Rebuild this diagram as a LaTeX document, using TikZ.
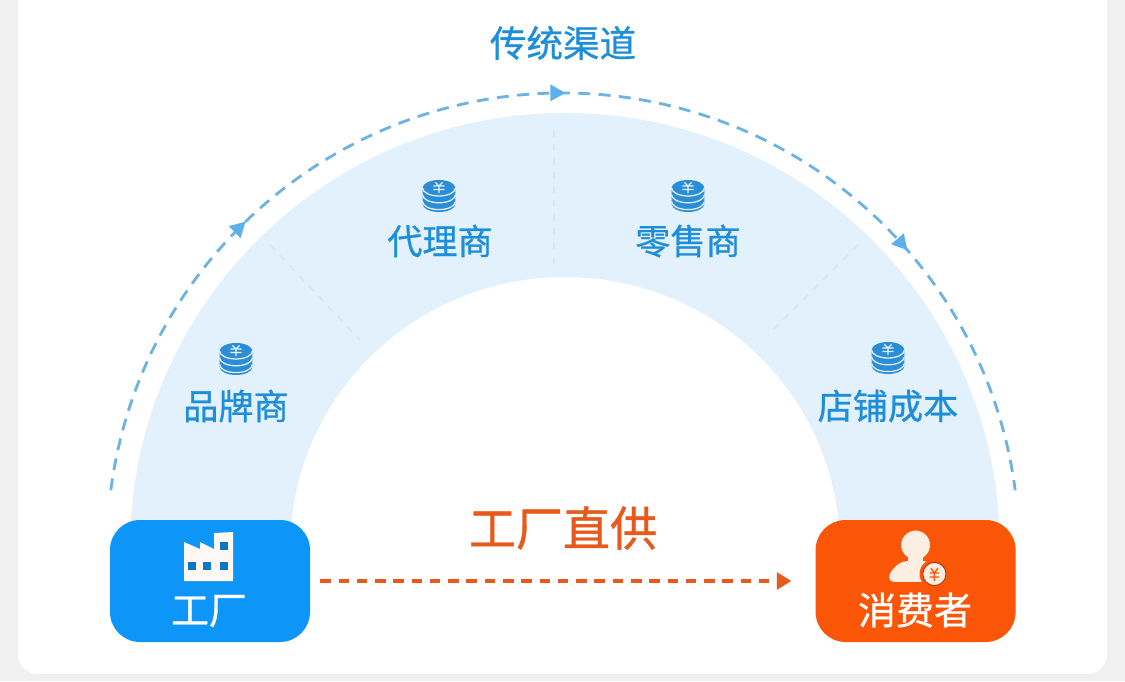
\documentclass[tikz,border=0pt]{standalone}
\usepackage{fontspec}
\newfontfamily\cjk[FakeBold=0.8]{Noto Sans CJK SC}
\usepackage{xcolor}
\usetikzlibrary{arrows.meta,decorations.markings,calc}
\definecolor{pagegray}{HTML}{F0F0F0}
\definecolor{archblue}{HTML}{E3F1FD}
\definecolor{splitblue}{HTML}{D6E7F5}
\definecolor{flowblue}{HTML}{6DB3E2}
\definecolor{tipblue}{HTML}{5CB1EC}
\definecolor{labelblue}{HTML}{1F8ED9}
\definecolor{coinblue}{HTML}{2B8DD6}
\definecolor{factoryblue}{HTML}{0D96F8}
\definecolor{buyerorange}{HTML}{FB5607}
\definecolor{directorange}{HTML}{E8591C}
\definecolor{cream}{HTML}{FDEEE4}

\begin{document}
\begin{tikzpicture}[
  every node/.style={inner sep=0pt},
  stagelabel/.style={font=\cjk\fontsize{25}{30}\selectfont, text=labelblue},
  boxlabel/.style={font=\cjk\fontsize{27}{32}\selectfont, text=white},
  endbox/.style={rounded corners=0.75cm, minimum width=5cm, minimum height=3.05cm},
  splitline/.style={splitblue, line width=1.2pt, dash pattern=on 5pt off 5pt},
  flowline/.style={flowblue, line width=2pt, dash pattern=on 8.5pt off 6pt},
  flowtip/.style={tipblue},
  coins/.pic={
    \fill[coinblue] (-0.41,0.2) arc[start angle=180, end angle=0, x radius=0.41, y radius=0.2]
      -- (0.41,-0.2) arc[start angle=0, end angle=-180, x radius=0.41, y radius=0.2] -- cycle;
    \foreach \yy in {0.2,0.03,-0.14} {
      \draw[archblue, line width=0.9pt] (-0.41,\yy) arc[start angle=180, end angle=360, x radius=0.41, y radius=0.2];
    }
    \draw[archblue, line width=0.9pt] (-0.14,0.25) -- (0.14,0.25) (-0.14,0.16) -- (0.14,0.16)
      (0,0.25) -- (0,0.07) (-0.09,0.34) -- (0,0.25) -- (0.09,0.34);
  },
  factoryicon/.pic={
    \fill[cream!40!white] (-0.65,0.975) -- (-0.25,0.8) -- (-0.25,0.975) -- (0.1,0.8) -- (0.1,1.2)
      -- (0.575,1.225) -- (0.575,0) -- (-0.65,0) -- cycle;
    \foreach \wx/\wy in {0.35/0.875, -0.45/0.375, -0.075/0.375, 0.35/0.375} {
      \fill[factoryblue!80!black] (\wx-0.09,\wy-0.09) rectangle (\wx+0.09,\wy+0.09);
    }
  },
  buyericon/.pic={
    \fill[cream] (0,0.9) ellipse (0.36 and 0.36);
    \fill[cream] (-0.18,0.75) rectangle (0.18,0.45);
    \fill[cream, rounded corners=3pt] (-0.66,-0.02) .. controls (-0.66,0.25) and (-0.45,0.42) .. (-0.28,0.5)
      -- (0.28,0.5) .. controls (0.45,0.42) and (0.6,0.35) .. (0.7,0.2) -- (0.5,-0.02) -- cycle;
    \fill[buyerorange] (0.47,0.175) circle (0.37);
    \fill[cream, draw=buyerorange!70!black, line width=0.7pt] (0.47,0.175) circle (0.29);
    \draw[buyerorange, line width=1pt] (0.35,0.2) -- (0.59,0.2) (0.35,0.1) -- (0.59,0.1)
      (0.47,0.2) -- (0.47,0) (0.38,0.32) -- (0.47,0.2) -- (0.56,0.32);
  }
]
\clip (0,0) rectangle (28.125,17.025);
\fill[pagegray] (0,0) rectangle (28.125,17.025);
\fill[white, rounded corners=0.5cm] (0.45,0.175) rectangle (27.675,18);

% arch
\coordinate (archc) at (14.125,3.325);
\fill[archblue] ($(archc)+(-10.875,0)$) arc[start angle=180, end angle=0, radius=10.875]
  -- ($(archc)+(6.87,0)$) arc[start angle=0, end angle=180, x radius=6.87, y radius=6.775] -- cycle;
\draw[splitline] (13.85,13.775) -- (13.85,10.4);
\draw[splitline] (6.75,10.9) -- (9,8.525);
\draw[splitline] (21.45,10.9) -- (19.2,8.65);

% traditional channel
\coordinate (flowc) at (14.075,3.3);
\coordinate (flowstart) at ($(flowc)+(172.6:11.4)$);
\draw[flowline, postaction={decorate, decoration={markings,
    mark=at position 0.233 with {\arrow[flowtip]{Triangle[length=0.38cm,width=0.4cm]}},
    mark=at position 0.502 with {\arrow[flowtip]{Triangle[length=0.38cm,width=0.4cm]}},
    mark=at position 0.797 with {\arrow[flowtip]{Triangle[length=0.38cm,width=0.4cm]}}}}]
  (flowstart) arc[start angle=172.6, end angle=7.4, radius=11.4];

\node[stagelabel, font=\cjk\fontsize{26}{30}\selectfont] (channel) at (14.075,15.95) {传统渠道};
\node[stagelabel] (brand)  at (5.9,6.875)  {品牌商};
\node[stagelabel] (agent)  at (11,11)      {代理商};
\node[stagelabel] (retail) at (17.2,11)    {零售商};
\node[stagelabel] (store)  at (22.2,6.875) {店铺成本};

\pic at (5.9,8.05)    {coins};
\pic at (10.975,12.125) {coins};
\pic at (17.2,12.125) {coins};
\pic at (22.2,8.075)  {coins};

% end points
\node[endbox, fill=factoryblue] (factory) at (5.25,2.5)   {};
\node[endbox, fill=buyerorange] (buyer)   at (22.89,2.5)  {};
\pic at (factory.center) {factoryicon};
\pic at (buyer.center)   {buyericon};
\node[boxlabel] (factorytext) at (5.225,1.75)  {工厂};
\node[boxlabel] (buyertext)   at (22.875,1.775) {消费者};

\node[font=\cjk\fontsize{33.5}{38}\selectfont, text=directorange] (direct) at (14.075,3.825) {工厂直供};
\draw[directorange, line width=2.2pt, dash pattern=on 7.5pt off 5.5pt, -{Triangle[length=0.36cm,width=0.42cm]}]
  ([xshift=0.25cm]factory.east) -- ([xshift=-0.6cm]buyer.west);
\end{tikzpicture}
\end{document}
